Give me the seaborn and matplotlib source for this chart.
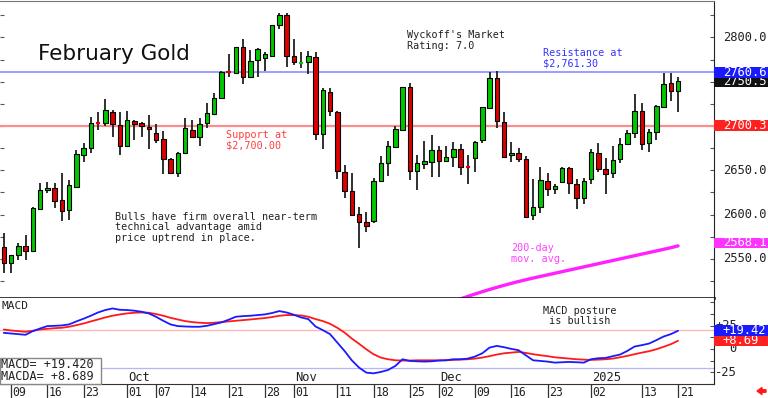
import numpy as np
import pandas as pd
import seaborn as sns
import matplotlib.pyplot as plt
from matplotlib.patches import Rectangle, FancyArrow

# trading days on the chart (exchange holidays removed)
holidays = ['2024-11-28', '2024-12-25', '2025-01-01', '2025-01-20']
dates = pd.bdate_range('2024-09-06', '2025-01-21').drop(pd.to_datetime(holidays))

# daily candles, February gold futures
opens = [2563.1, 2545.0, 2554.4, 2564.5, 2559.2, 2606.6, 2627.4, 2629.7, 2616.1, 2604.8,
         2631.5, 2666.9, 2674.8, 2704.2, 2703.0, 2716.1, 2701.1, 2677.4, 2705.6, 2703.0,
         2698.5, 2692.4, 2685.0, 2662.4, 2647.3, 2669.2, 2695.5, 2687.9, 2703.0, 2713.2,
         2731.2, 2761.3, 2760.2, 2788.8, 2755.0, 2774.5, 2777.1, 2779.3, 2813.6, 2825.6,
         2779.3, 2770.3, 2771.9, 2777.5, 2691.0, 2738.0, 2715.4, 2648.4, 2626.6, 2600.3,
         2592.0, 2592.8, 2637.9, 2658.6, 2676.6, 2695.5, 2743.7, 2649.2, 2657.1, 2659.7,
         2672.9, 2660.8, 2664.7, 2673.7, 2654.5, 2664.2, 2684.2, 2720.6, 2754.5, 2704.2,
         2667.3, 2669.2, 2662.4, 2599.2, 2608.2, 2637.9, 2628.5, 2637.1, 2652.9, 2634.2,
         2618.4, 2639.8, 2669.8, 2651.4, 2646.6, 2662.4, 2679.3, 2692.4, 2716.9, 2681.1,
         2692.9, 2721.8, 2748.2, 2739.8]
highs = [2578.9, 2554.4, 2567.6, 2577.0, 2608.9, 2635.3, 2637.1, 2635.3, 2647.3, 2639.0,
         2672.9, 2680.5, 2710.5, 2716.1, 2730.5, 2718.0, 2716.1, 2716.9, 2706.8, 2704.8,
         2712.4, 2702.2, 2694.3, 2663.5, 2671.0, 2708.7, 2706.8, 2708.7, 2726.3, 2736.9,
         2762.4, 2780.9, 2789.5, 2797.8, 2785.8, 2787.7, 2783.8, 2814.0, 2827.9, 2827.2,
         2797.8, 2783.2, 2785.0, 2783.8, 2742.5, 2742.5, 2716.9, 2656.0, 2646.6, 2608.2,
         2603.3, 2641.0, 2666.5, 2683.4, 2700.0, 2743.7, 2748.2, 2667.3, 2683.1, 2689.8,
         2677.7, 2677.7, 2682.3, 2679.3, 2667.3, 2683.4, 2721.8, 2761.3, 2762.4, 2716.1,
         2682.3, 2674.8, 2666.1, 2639.8, 2653.4, 2646.6, 2634.2, 2654.0, 2654.0, 2639.8,
         2641.0, 2674.0, 2680.5, 2663.5, 2677.7, 2686.1, 2695.5, 2735.8, 2726.3, 2696.3,
         2723.7, 2759.5, 2760.1, 2755.0]
lows = [2533.7, 2534.4, 2548.7, 2548.7, 2558.1, 2605.2, 2624.0, 2607.1, 2593.1, 2593.9,
        2629.7, 2659.7, 2669.8, 2695.5, 2700.0, 2687.2, 2667.3, 2676.6, 2684.2, 2687.9,
        2674.0, 2680.5, 2645.8, 2645.8, 2642.1, 2668.0, 2686.0, 2677.7, 2698.1, 2712.4,
        2731.2, 2755.0, 2758.7, 2747.0, 2753.8, 2755.0, 2762.1, 2778.2, 2809.1, 2766.9,
        2768.8, 2765.1, 2758.7, 2684.2, 2674.0, 2711.3, 2639.8, 2618.4, 2599.0, 2561.9,
        2580.7, 2590.8, 2637.5, 2643.9, 2674.8, 2694.3, 2639.0, 2627.7, 2651.1, 2642.8,
        2642.8, 2659.0, 2654.0, 2644.7, 2634.5, 2648.4, 2681.1, 2720.0, 2697.4, 2663.9,
        2659.7, 2659.7, 2595.8, 2593.9, 2601.4, 2621.3, 2622.9, 2635.3, 2623.2, 2606.3,
        2611.9, 2634.5, 2648.4, 2622.9, 2641.0, 2657.9, 2678.5, 2686.1, 2672.9, 2671.0,
        2684.2, 2720.0, 2728.5, 2715.4]
closes = [2545.7, 2554.0, 2564.9, 2559.2, 2607.8, 2627.4, 2630.3, 2615.3, 2604.4, 2633.1,
          2668.4, 2674.8, 2703.0, 2703.0, 2718.0, 2702.2, 2677.7, 2706.8, 2702.2, 2700.0,
          2696.3, 2684.2, 2662.4, 2647.3, 2669.2, 2697.4, 2687.9, 2702.2, 2714.3, 2731.9,
          2761.3, 2760.6, 2788.8, 2755.0, 2773.7, 2786.6, 2781.3, 2813.6, 2825.3, 2779.3,
          2771.9, 2771.1, 2779.0, 2691.0, 2740.6, 2717.3, 2649.2, 2627.0, 2599.5, 2592.0,
          2587.4, 2637.9, 2658.6, 2677.4, 2696.3, 2743.5, 2649.2, 2657.9, 2660.5, 2672.9,
          2660.8, 2664.7, 2673.7, 2654.0, 2654.0, 2682.3, 2721.1, 2754.5, 2705.6, 2665.3,
          2669.8, 2662.4, 2597.6, 2608.2, 2639.0, 2628.5, 2632.3, 2652.2, 2635.3, 2618.4,
          2637.9, 2670.3, 2651.4, 2645.8, 2661.6, 2679.3, 2692.4, 2717.3, 2679.3, 2692.9,
          2722.6, 2747.1, 2739.8, 2750.5]

# 200-day moving average (only the last part is inside the price window)
ma200 = [2505.0, 2507.8, 2510.5, 2513.1, 2515.6, 2518.0, 2520.3, 2522.5, 2524.6, 2526.6,
         2528.5, 2530.3, 2532.1, 2533.9, 2535.7, 2537.5, 2539.3, 2541.1, 2542.9, 2544.7,
         2546.5, 2548.3, 2550.1, 2551.9, 2553.7, 2555.5, 2557.3, 2559.1, 2560.9, 2562.7,
         2564.8]

# MACD and its average
macd = [17.2, 16.5, 15.8, 15.1, 19.0, 21.8, 24.4, 24.7, 25.1, 26.2,
        29.4, 32.3, 35.5, 39.0, 41.6, 43.3, 41.9, 41.6, 40.9, 39.8,
        38.0, 34.4, 30.1, 26.2, 24.4, 24.0, 23.7, 23.7, 24.7, 26.5,
        28.3, 31.2, 34.4, 35.1, 35.5, 36.2, 36.9, 38.4, 40.5, 39.0,
        36.6, 33.7, 31.9, 24.0, 20.1, 15.8, 6.8, -2.2, -12.2, -20.0,
        -25.4, -26.2, -24.7, -22.6, -18.3, -11.1, -12.9, -13.3, -13.6, -13.3,
        -12.5, -12.2, -11.1, -11.1, -10.4, -8.2, -4.7, 1.4, 3.2, 1.8,
        0.0, -1.4, -6.8, -12.2, -12.9, -13.6, -14.7, -14.3, -14.0, -14.3,
        -14.7, -11.1, -10.0, -9.7, -7.8, -6.1, -2.2, 2.5, 4.0, 5.7,
        9.3, 13.2, 15.8, 19.42]
macda = [20.8, 19.7, 19.0, 18.3, 19.4, 20.8, 21.5, 22.2, 22.6, 23.7,
         25.4, 27.2, 29.4, 31.5, 33.7, 35.5, 36.9, 38.0, 38.7, 39.0,
         38.7, 37.3, 35.5, 33.3, 31.5, 29.8, 28.7, 28.0, 27.6, 28.0,
         28.7, 29.4, 30.1, 30.8, 31.5, 32.3, 33.0, 34.1, 35.5, 36.2,
         36.2, 35.8, 34.4, 31.9, 29.8, 26.9, 22.6, 17.5, 11.1, 5.5,
         -0.4, -5.7, -9.3, -11.1, -12.2, -12.5, -12.5, -12.2, -12.2, -12.2,
         -12.2, -12.2, -11.8, -11.5, -11.1, -10.4, -9.3, -7.8, -6.1, -4.7,
         -4.0, -3.2, -4.3, -5.7, -6.8, -7.8, -9.0, -9.7, -10.4, -11.1,
         -11.5, -11.8, -11.5, -11.1, -10.4, -9.0, -7.5, -5.7, -4.0, -2.5,
         -0.4, 2.2, 5.0, 8.69]

tick_days = ['2024-09-09', '2024-09-16', '2024-09-23', '2024-10-01', '2024-10-07',
             '2024-10-14', '2024-10-21', '2024-10-28', '2024-11-01', '2024-11-11',
             '2024-11-18', '2024-11-25', '2024-12-02', '2024-12-09', '2024-12-16',
             '2024-12-23', '2025-01-02', '2025-01-13', '2025-01-21']
tick_labels = ['09', '16', '23', '01', '07', '14', '21', '28', '01', '11',
               '18', '25', '02', '09', '16', '23', '02', '13', '21']
month_days = ['2024-10-01', '2024-11-01', '2024-12-02', '2025-01-02']
month_labels = ['Oct', 'Nov', 'Dec', '2025']

price_ticks = [2550, 2600, 2650, 2800]
price_tick_labels = ['2550.0', '2600.0', '2650.0', '2800.0']
macd_ticks = [25, 0, -25]
macd_tick_labels = ['+25', '0', '-25']

resistance = 2761.3
support = 2700.0
# drawn in this order, later ones sit on top
price_flags = [(2750.5, '2750.5', '#111111'), (2760.6, '2760.6', '#1a1aff'),
               (2700.3, '2700.3', '#ff2020'), (2568.1, '2568.1', '#ff33ff')]
macd_flags = [(8.69, '+8.69', '#ff2020'), (19.42, '+19.42', '#1a1aff')]

GREEN = '#00c800'
RED = '#dd0000'

sns.set_style('white')
plt.rcParams['font.family'] = ['DejaVu Sans Mono', 'DejaVu Sans']

df = pd.DataFrame({'date': dates, 'open': opens, 'high': highs,
                   'low': lows, 'close': closes, 'macd': macd, 'macda': macda})
df['x'] = np.arange(len(df))
pos = {d: i for i, d in enumerate(df['date'].dt.strftime('%Y-%m-%d'))}

W, H = 768, 398
fig = plt.figure(figsize=(W / 100, H / 100), dpi=100)
ax = fig.add_axes([0, 1 - 298 / H, 714 / W, 297 / H])
ax2 = fig.add_axes([0, 1 - 384 / H, 714 / W, 86 / H])

# ---- price panel
up = df['close'] >= df['open']
ax.vlines(df['x'], df['low'], df['high'], color='#202020', lw=1.3, zorder=2)
body = (df['close'] - df['open']).abs()
bottom = df[['open', 'close']].min(axis=1)
big = body >= 1.5
colors = np.where(up, GREEN, RED)
ax.bar(df['x'][big], body[big], bottom=bottom[big], width=0.62,
       color=colors[big], edgecolor='black', linewidth=0.8, zorder=3)
small = ~big
ax.hlines(df['close'][small], df['x'][small] - 0.3, df['x'][small] + 0.3,
          colors=colors[small], lw=1.6, zorder=3)

ma_df = pd.DataFrame({'x': df['x'].iloc[-len(ma200):].values, 'ma': ma200})
sns.lineplot(data=ma_df, x='x', y='ma', color='#ff22ff', lw=2.4, ax=ax)

ax.axhline(resistance, color='#8c8cff', lw=1.2, zorder=1)
ax.axhline(support, color='#ff8c8c', lw=1.6, zorder=1)

ax.set_xlim(-0.52, 97.96)
ax.set_ylim(2506, 2841)
ax.set_xticks([])
ax.set_yticks(np.arange(2525, 2841, 25))
ax.tick_params(axis='y', direction='in', length=3, width=0.8, color='#555555',
               left=True, right=True, labelleft=False, labelright=False)
ax.set_xlabel('')
ax.set_ylabel('')
ax.spines['left'].set_visible(False)
ax.spines['top'].set_color('#777777')
ax.spines['right'].set_color('#222222')
ax.spines['bottom'].set_color('black')
ax.spines['bottom'].set_linewidth(1.8)

ytr = ax.get_yaxis_transform()
for v, lab in zip(price_ticks, price_tick_labels):
    ax.text(1.0126, v, lab, transform=ytr, fontsize=8.7, va='center', ha='left',
            color='#222222', clip_on=False)
for k, (v, lab, c) in enumerate(price_flags):
    ax.add_patch(Rectangle((1.0, v - 6.2), 54 / 714, 12.2, transform=ytr,
                           facecolor=c, edgecolor='none', clip_on=False, zorder=5 + 2 * k))
    ax.text(1.0126, v, lab, transform=ytr, fontsize=8.7, va='center', ha='left',
            color='white', clip_on=False, zorder=6 + 2 * k)


def px(xp, yp, top, height):
    # pixel position -> axes fraction
    return xp / 714, (top + height - yp) / height


kw = dict(fontsize=7.3, linespacing=1.05, va='center', ha='left')
ax.text(*px(38, 59.5, 1, 297), 'February Gold', fontsize=15.5, family='DejaVu Sans',
        va='baseline', ha='left', color='#111111', transform=ax.transAxes)
ax.text(*px(407, 40.5, 1, 297), "Wyckoff's Market\nRating: 7.0", color='#222222',
        transform=ax.transAxes, **kw)
ax.text(*px(543, 58, 1, 297), 'Resistance at\n$2,761.30', color='#3333ff',
        transform=ax.transAxes, **kw)
ax.text(*px(226, 140, 1, 297), 'Support at\n$2,700.00', color='#ff4040',
        transform=ax.transAxes, **kw)
ax.text(*px(115, 227.5, 1, 297),
        'Bulls have firm overall near-term\ntechnical advantage amid\nprice uptrend in place.',
        color='#222222', transform=ax.transAxes, **kw)
ax.text(*px(511, 253.5, 1, 297), '200-day\nmov. avg.', color='#ff44ff',
        transform=ax.transAxes, **kw)

# ---- MACD panel
ax2.axhline(20, color='#ffb4b4', lw=0.9, zorder=1)
ax2.axhline(-20, color='#b4b4ff', lw=0.9, zorder=1)
sns.lineplot(data=df, x='x', y='macda', color='#ff1a1a', lw=1.3, ax=ax2)
sns.lineplot(data=df, x='x', y='macd', color='#1a1aff', lw=1.3, ax=ax2)
ax2.set_xlim(-0.52, 97.96)
ax2.set_ylim(-37.6, 54.5)
ax2.set_yticks(np.arange(-37.5, 54, 12.5))
ax2.tick_params(axis='y', direction='in', length=3, width=0.8, color='#555555',
                left=False, right=True, labelleft=False, labelright=False)
ax2.set_xlabel('')
ax2.set_ylabel('')
ax2.spines['left'].set_visible(False)
ax2.spines['top'].set_visible(False)
ax2.spines['right'].set_color('#222222')
ax2.spines['bottom'].set_color('#333333')

ytr2 = ax2.get_yaxis_transform()
for v, lab in zip(macd_ticks, macd_tick_labels):
    ax2.text(1.0322, v, lab, transform=ytr2, fontsize=8.7, va='center', ha='right',
             color='#222222', clip_on=False)
for k, (v, lab, c) in enumerate(macd_flags):
    ax2.add_patch(Rectangle((1.0, v - 5.6), 54 / 714, 11.6, transform=ytr2,
                            facecolor=c, edgecolor='none', clip_on=False, zorder=5 + 2 * k))
    ax2.text(1.0126, v, lab, transform=ytr2, fontsize=8.7, va='center', ha='left',
             color='white', clip_on=False, zorder=6 + 2 * k)

ticks_x = [pos[d] for d in tick_days]
ax2.set_xticks(ticks_x)
ax2.set_xticklabels([])
ax2.tick_params(axis='x', direction='out', length=10.5, width=0.9, color='#333333',
                bottom=True)
for xi, lab in zip(ticks_x, tick_labels):
    ax2.annotate(lab, xy=(xi, 0), xycoords=('data', 'axes fraction'),
                 xytext=(1.2, -1.5), textcoords='offset points', fontsize=8.3,
                 va='top', ha='left', color='#222222', annotation_clip=False)
for d, lab in zip(month_days, month_labels):
    ax2.annotate(lab, xy=(pos[d], 0), xycoords=('data', 'axes fraction'),
                 xytext=(1.0, 5.0), textcoords='offset points', fontsize=8.7,
                 va='center', ha='left', color='#222222')

ax2.text(*px(2, 306, 298, 86), 'MACD', fontsize=8, va='center', ha='left',
         color='#222222', transform=ax2.transAxes)
ax2.text(*px(543, 316, 298, 86), 'MACD posture\n is bullish', color='#222222',
         transform=ax2.transAxes, **kw)

fig.add_artist(Rectangle((0, 1 - 384 / H), 101 / W, 26.5 / H, transform=fig.transFigure,
                         facecolor='white', edgecolor='#888888', lw=1.0, zorder=4))
fig.text(1 / W, 1 - 370.5 / H, 'MACD= +19.420\nMACDA= +8.689', fontsize=8.5,
         linespacing=0.95, va='center', ha='left', color='#222222', zorder=5)

fig.add_artist(FancyArrow(766 / W, 1 - 391 / H, -4 / W, 0, width=2.5 / H,
                          head_width=7 / H, head_length=5 / W,
                          length_includes_head=False, transform=fig.transFigure,
                          color='#ff1a1a'))

fig.savefig('out.png', dpi=100)
